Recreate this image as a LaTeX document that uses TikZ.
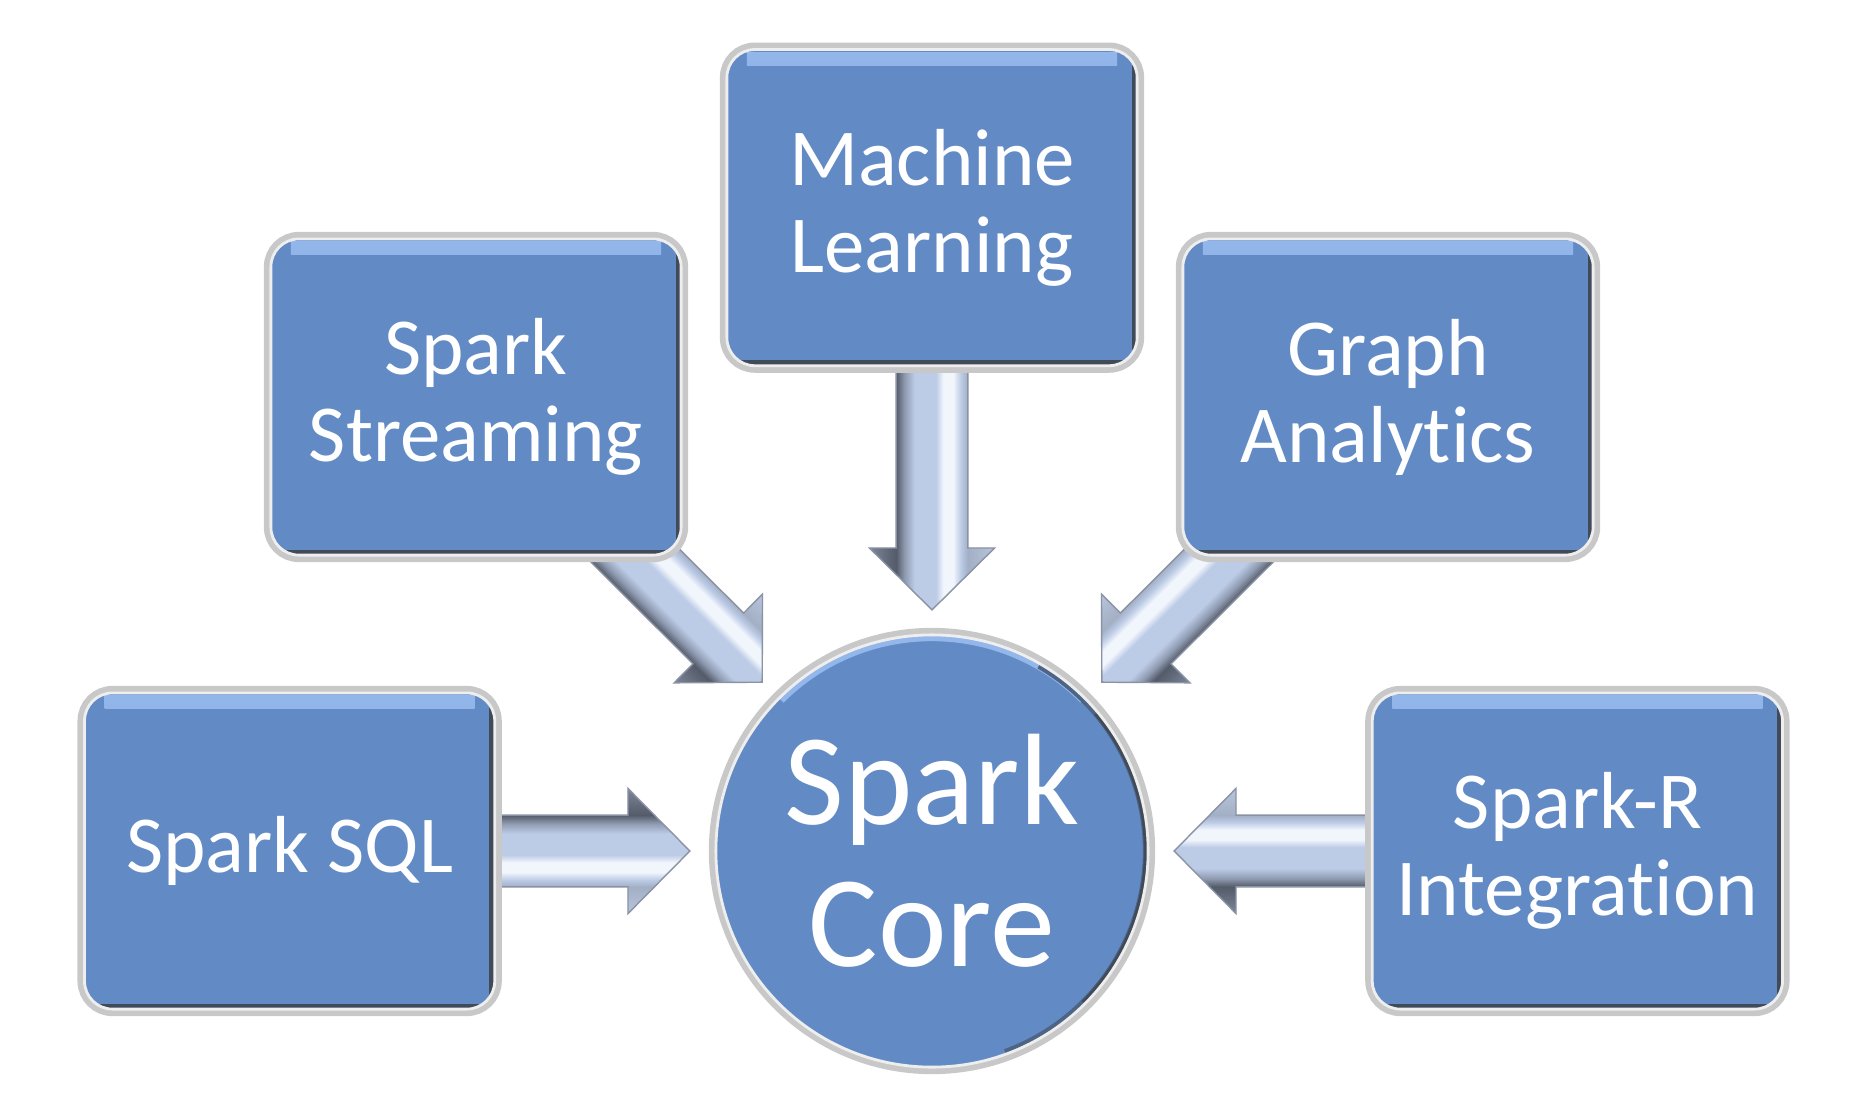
\documentclass[tikz,border=0pt]{standalone}
\usepackage{fontspec}
\setmainfont{Carlito}[Ligatures=NoCommon]
\usetikzlibrary{positioning}
\usetikzlibrary{calc}

\definecolor{boxblue}{HTML}{628BC6}
\definecolor{boxtop}{HTML}{93B7EA}
\definecolor{boxedge}{HTML}{404A58}
\definecolor{rimgray}{HTML}{C8C8C8}
\definecolor{rimlight}{HTML}{EEEEEE}
\definecolor{tubelight}{HTML}{BCCBE6}
\definecolor{tubehi}{HTML}{F1F5FC}
\definecolor{tubemid}{HTML}{8E9AB0}
\definecolor{tubedark}{HTML}{545B69}
\definecolor{tubepale}{HTML}{A3AFC4}
\definecolor{tubebarbup}{HTML}{7D879A}
\definecolor{tubebarblow}{HTML}{B7C4DC}
\definecolor{tubeline}{HTML}{8A93A4}

\pgfdeclareverticalshading{tube}{100bp}{color(0bp)=(tubebarblow); color(25bp)=(tubebarblow);
  color(35.7bp)=(tubepale); color(38.5bp)=(tubelight); color(41.5bp)=(tubehi); color(45.5bp)=(tubehi);
  color(48.5bp)=(tubelight); color(57bp)=(tubelight); color(61bp)=(tubemid); color(64.3bp)=(tubedark);
  color(75bp)=(tubebarbup); color(100bp)=(tubebarbup)}
\pgfdeclareverticalshading{tubeflip}{100bp}{color(0bp)=(tubebarbup); color(25bp)=(tubebarbup);
  color(35.7bp)=(tubedark); color(39bp)=(tubemid); color(43bp)=(tubelight); color(51.5bp)=(tubelight);
  color(54.5bp)=(tubehi); color(58.5bp)=(tubehi); color(61.5bp)=(tubelight); color(64.3bp)=(tubepale);
  color(75bp)=(tubebarblow); color(100bp)=(tubebarblow)}

\pgfdeclarelayer{back}
\pgfsetlayers{back,main}

\tikzset{
  module/.style={rectangle, rounded corners=0.28cm, minimum width=4.1cm, minimum height=3.16cm,
    inner sep=0pt, outer sep=0pt, fill=boxblue, draw=rimlight, line width=0.8pt,
    preaction={draw=rimgray, line width=4pt},
    text=white, align=center, font=\fontsize{23}{24.7}\selectfont,
    path picture={
      \shade[top color=boxtop, bottom color=boxblue, sharp corners]
        ([xshift=0.2cm,yshift=-0.8pt]path picture bounding box.north west)
        rectangle ([xshift=-0.2cm,yshift=-4.5pt]path picture bounding box.north east);
      \draw[boxedge, line width=3pt, sharp corners] (path picture bounding box.north east)
        -- (path picture bounding box.south east) -- (path picture bounding box.south west);
    }},
  hub/.style={circle, minimum size=4.32cm, inner sep=0pt, outer sep=0pt,
    fill=boxblue, draw=rimlight, line width=0.8pt,
    preaction={draw=rimgray, line width=4pt},
    text=white, align=center, font=\fontsize{37}{40.5}\selectfont,
    path picture={
      \draw[boxtop, line width=3pt] (path picture bounding box.center) ++(135:2.15cm) arc (135:45:2.15cm);
      \draw[boxedge!60!boxblue, line width=3pt] (path picture bounding box.center) ++(60:2.16cm) arc (60:-70:2.16cm);
      \draw[boxedge, line width=2.4pt] (path picture bounding box.center) ++(40:2.16cm) arc (40:-45:2.16cm);
    }},
  flow/.style={draw=tubeline, line width=0.4pt, line join=miter}
}

% block arrow from a module to a tip coordinate
\newcommand{\flowarrow}[3]{%
  \pgfmathanglebetweenpoints{\pgfpointanchor{#1}{center}}{\pgfpointanchor{#2}{center}}%
  \let\flowangle\pgfmathresult
  \begin{scope}[transform canvas={shift={(#2)}, rotate=\flowangle}]
    \shadedraw[flow, shading=#3] let \p1=($(#2)-(#1)$), \n1={veclen(\x1,\y1)} in
      (0pt,0pt) -- (-17.6pt,17.8pt) -- (-17.6pt,10.2pt) -- (-\n1,10.2pt)
      -- (-\n1,-10.2pt) -- (-17.6pt,-10.2pt) -- (-17.6pt,-17.8pt) -- cycle;
  \end{scope}}

\begin{document}
\begin{tikzpicture}[x=0.01cm, y=0.01cm]
    \useasboundingbox (0,0) rectangle (1876,-1118);

    \node[hub] (core) at (932,-851) {Spark\\Core};

    \node[module, above=2.69cm of core] (ml) {Machine\\Learning};
    \node[module, above left=1.43cm and 0.98cm of core] (st) {Spark\\Streaming};
    \node[module, above right=1.43cm and 0.98cm of core] (ga) {Graph\\Analytics};
    \node[module, left=2.21cm of core] (sql) {Spark SQL};
    \node[module, right=2.24cm of core] (sr) {Spark-R\\Integration};

    \coordinate (tipml) at ($(core.north)+(0,25)$);
    \coordinate (tipst) at ($(core.north west)+(-17,16)$);
    \coordinate (tipga) at ($(core.north east)+(17,16)$);
    \coordinate (tipsql) at ($(core.west)+(-26,0)$);
    \coordinate (tipsr) at ($(core.east)+(26,0)$);

    \begin{pgfonlayer}{back}
        \flowarrow{ml}{tipml}{tubeflip}
        \flowarrow{st}{tipst}{tubeflip}
        \flowarrow{ga}{tipga}{tube}
        \flowarrow{sql}{tipsql}{tube}
        \flowarrow{sr}{tipsr}{tube}
    \end{pgfonlayer}
\end{tikzpicture}
\end{document}
